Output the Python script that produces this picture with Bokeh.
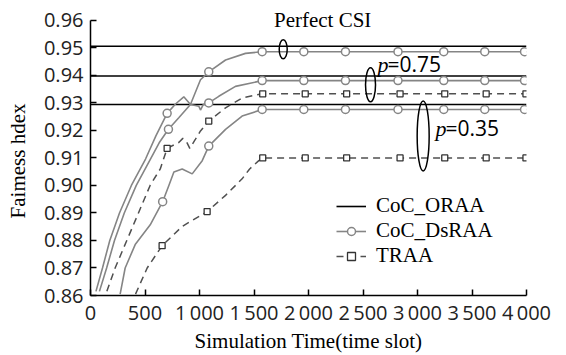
from bokeh.plotting import figure
from bokeh.models import Legend, LegendItem, FixedTicker, Range1d
from bokeh.core.properties import value
from bokeh.embed import file_html
from bokeh.resources import INLINE

# ---------------- data ----------------
x_ticks = [0, 500, 1000, 1500, 2000, 2500, 3000, 3500, 4000]
x_tick_labels = ["0", "500", "1\u2009000", "1\u2009500", "2\u2009000", "2\u2009500",
                 "3\u2009000", "3\u2009500", "4\u2009000"]
y_ticks = [0.86, 0.87, 0.88, 0.89, 0.90, 0.91, 0.92, 0.93, 0.94, 0.95, 0.96]

# CoC_ORAA (flat levels: perfect CSI, p=0.75, p=0.35)
oraa_x = [0, 4000]
oraa_perfect = [0.9506, 0.9506]
oraa_p075 = [0.9398, 0.9398]
oraa_p035 = [0.9294, 0.9294]

# CoC_DsRAA, perfect CSI
ds_perf_x = [50, 110, 177, 266, 375, 505, 600, 703, 780, 856, 917, 1009, 1085, 1239, 1422, 1575, 4000]
ds_perf_y = [0.8615, 0.870, 0.880, 0.890, 0.900, 0.9096, 0.918, 0.9262, 0.9296, 0.9322, 0.9294,
             0.9384, 0.9413, 0.9456, 0.9480, 0.9486, 0.9486]
ds_perf_mx = [703, 1085, 1575, 1957, 2339, 2821, 3241, 3617, 3982]
ds_perf_my = [0.9262, 0.9413, 0.9486, 0.9486, 0.9486, 0.9486, 0.9486, 0.9486, 0.9486]

# CoC_DsRAA, p=0.75
ds_075_x = [82, 148, 220, 310, 420, 550, 630, 715, 810, 917, 994, 1009, 1034, 1085, 1177, 1330, 1575, 4000]
ds_075_y = [0.8615, 0.870, 0.880, 0.890, 0.900, 0.9096, 0.9155, 0.9204, 0.9246, 0.9294, 0.9288,
            0.9274, 0.9294, 0.9300, 0.9324, 0.9360, 0.9381, 0.9381]
ds_075_mx = [715, 1085, 1575, 1957, 2339, 2821, 3241, 3617, 3982]
ds_075_my = [0.9204, 0.9300, 0.9381, 0.9381, 0.9381, 0.9381, 0.9381, 0.9381, 0.9381]

# CoC_DsRAA, p=0.35
ds_035_x = [272, 318, 410, 548, 662, 719, 765, 841, 933, 1025, 1085, 1239, 1391, 1575, 4000]
ds_035_y = [0.8605, 0.870, 0.8785, 0.8857, 0.8941, 0.900, 0.9049, 0.9060, 0.9042, 0.9090, 0.9143,
            0.9204, 0.9252, 0.9276, 0.9276]
ds_035_mx = [662, 1085, 1575, 1957, 2339, 2821, 3241, 3617, 3982]
ds_035_my = [0.8941, 0.9143, 0.9276, 0.9276, 0.9276, 0.9276, 0.9276, 0.9276, 0.9276]

# TRAA, p=0.75
tr_075_x = [150, 226, 333, 440, 547, 640, 703, 810, 847, 881, 911, 963, 1009, 1085, 1239, 1391, 1575, 4000]
tr_075_y = [0.8615, 0.870, 0.880, 0.890, 0.900, 0.906, 0.9135, 0.9156, 0.9171, 0.9159, 0.9135, 0.9168,
            0.9198, 0.9234, 0.9282, 0.9318, 0.9333, 0.9333]
tr_075_mx = [703, 1085, 1580, 1970, 2350, 2840, 3250, 3630, 3995]
tr_075_my = [0.9135, 0.9234, 0.9333, 0.9333, 0.9333, 0.9333, 0.9333, 0.9333, 0.9333]

# TRAA, p=0.35
tr_035_x = [413, 520, 657, 841, 1070, 1239, 1391, 1460, 1544, 1590, 4000]
tr_035_y = [0.8605, 0.870, 0.8781, 0.8851, 0.8905, 0.8964, 0.9024, 0.906, 0.9090, 0.910, 0.910]
tr_035_mx = [657, 1070, 1580, 1970, 2350, 2840, 3250, 3630, 3995]
tr_035_my = [0.8781, 0.8905, 0.910, 0.910, 0.910, 0.910, 0.910, 0.910, 0.910]

# group ellipses (annotation positions)
ell_x = [1768, 2569, 3052]
ell_y = [0.9495, 0.9366, 0.9180]
ell_w = [8, 10, 12]
ell_h = [19, 34, 70]

# ---------------- figure ----------------
SERIF = "Liberation Serif"
SANS = "Open Sans"
GRAY = "#858585"
DARK = "#505050"

p = figure(width=566, height=355, x_range=Range1d(0, 4000), y_range=Range1d(0.86, 0.9654),
           output_backend="svg", toolbar_location=None,
           min_border_left=90, min_border_right=40, min_border_top=5, min_border_bottom=57)
p.outline_line_color = None
p.xgrid.visible = False
p.ygrid.visible = False
p.background_fill_color = "white"
p.border_fill_color = "white"

for ax in (p.xaxis[0], p.yaxis[0]):
    ax.axis_line_color = "black"
    ax.axis_line_width = 1.5
    ax.major_tick_line_color = "black"
    ax.major_tick_line_width = 1.5
    ax.major_tick_in = 6
    ax.major_tick_out = 0
    ax.minor_tick_line_color = None
    ax.major_label_text_font = SANS
    ax.major_label_text_font_size = "20px"
    ax.major_label_text_color = "#222222"
    ax.axis_label_text_font = SERIF
    ax.axis_label_text_font_size = "21px"
    ax.axis_label_text_font_style = "normal"
    ax.axis_label_text_color = "black"

p.xaxis.ticker = FixedTicker(ticks=x_ticks)
p.xaxis.major_label_overrides = {t: l for t, l in zip(x_ticks, x_tick_labels)}
p.xaxis.major_label_standoff = 3
p.xaxis.axis_label = "Simulation Time(time slot)"
p.xaxis.axis_label_standoff = 0

p.yaxis.ticker = FixedTicker(ticks=y_ticks)
p.yaxis.bounds = (0.86, 0.96)
p.yaxis.major_label_overrides = {t: f"{t:.2f}" for t in y_ticks}
p.yaxis.major_label_standoff = 7
p.yaxis.axis_label = "Faimess hdex" + "\u00a0" * 4
p.yaxis.axis_label_standoff = 11

# ORAA lines
r_oraa = p.line(oraa_x, oraa_perfect, line_color="black", line_width=1.6)
p.line(oraa_x, oraa_p075, line_color="black", line_width=1.6)
p.line(oraa_x, oraa_p035, line_color="black", line_width=1.6)

# DsRAA
ds_lines = []
ds_marks = []
for xs, ys, mx, my in [(ds_perf_x, ds_perf_y, ds_perf_mx, ds_perf_my),
                       (ds_075_x, ds_075_y, ds_075_mx, ds_075_my),
                       (ds_035_x, ds_035_y, ds_035_mx, ds_035_my)]:
    ds_lines.append(p.line(xs, ys, line_color=GRAY, line_width=1.6))
    ds_marks.append(p.scatter(mx, my, marker="circle", size=8, line_color=GRAY,
                              line_width=1.5, fill_color="white"))

# TRAA
tr_lines = []
tr_marks = []
for xs, ys, mx, my in [(tr_075_x, tr_075_y, tr_075_mx, tr_075_my),
                       (tr_035_x, tr_035_y, tr_035_mx, tr_035_my)]:
    tr_lines.append(p.line(xs, ys, line_color=DARK, line_width=1.5, line_dash="7 5"))
    tr_marks.append(p.scatter(mx, my, marker="square", size=6, line_color="#333333",
                              line_width=1.3, fill_color="white"))

# group ellipses
p.ellipse(x=ell_x, y=ell_y, width=ell_w, height=ell_h, width_units="screen",
          height_units="screen", fill_alpha=0, line_color="black", line_width=1.5)

# annotations
p.text(x=[2130], y=[0.9601], text=["Perfect CSI"], text_font=value(SERIF),
       text_font_size="21px", text_align="center", text_baseline="middle", text_color="black")
p.text(x=[2633, 3165], y=[0.9440, 0.9208], text=["p", "p"], text_font=value(SERIF),
       text_font_style="italic", text_font_size="22px", text_align="left",
       text_baseline="middle", text_color="black")
p.text(x=[2725, 3257], y=[0.9440, 0.9208], text=["=0.75", "=0.35"], text_font=value(SANS),
       text_font_size="21px", text_align="left", text_baseline="middle", text_color="black")

legend = Legend(items=[
    LegendItem(label="CoC_ORAA", renderers=[r_oraa]),
    LegendItem(label="CoC_DsRAA", renderers=[ds_lines[0], ds_marks[0]]),
    LegendItem(label="TRAA", renderers=[tr_lines[0], tr_marks[0]]),
], location=(246, 27))
legend.border_line_color = None
legend.background_fill_alpha = 0
legend.padding = 0
legend.margin = 0
legend.spacing = -2
legend.glyph_width = 30
legend.glyph_height = 20
legend.label_height = 20
legend.label_standoff = 10
legend.label_text_font = SERIF
legend.label_text_font_size = "21px"
legend.label_text_color = "black"
p.add_layout(legend)

open("out.html", "w").write(file_html(p, INLINE))
